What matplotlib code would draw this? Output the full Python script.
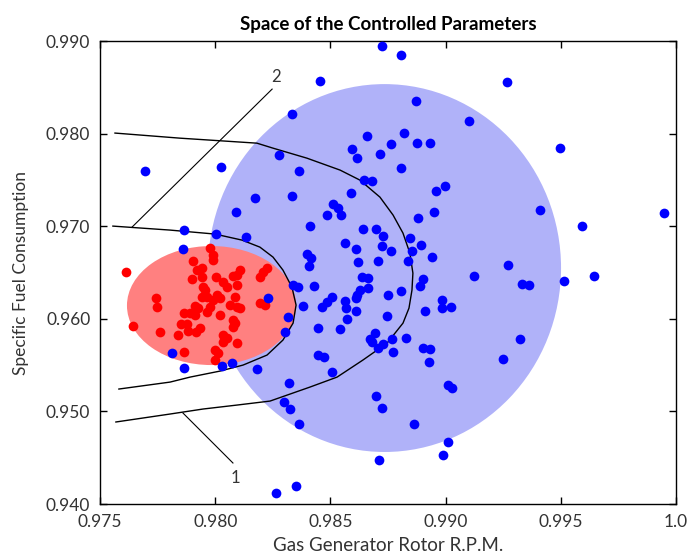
import numpy as np
import matplotlib as mpl
mpl.use('Agg')
import matplotlib.pyplot as plt
from matplotlib.patches import Ellipse

plt.rcParams['font.family'] = ['Lato', 'DejaVu Sans']

# ---- data ----
blue_x = [0.98724, 0.98806, 0.98455, 0.99266, 0.98871, 0.98333, 0.99101, 0.98819,
          0.98659, 0.98763, 0.98876, 0.98932, 0.98594, 0.98615, 0.98715, 0.98277,
          0.99496, 0.97695, 0.98025, 0.98364, 0.98806, 0.98646, 0.98680, 0.98997,
          0.98958, 0.98589, 0.98333, 0.98173, 0.98511, 0.98533, 0.98546, 0.98485,
          0.98090, 0.98950, 0.98880, 0.99410, 0.99948, 0.98411, 0.98641, 0.98698,
          0.98728, 0.97865, 0.98003, 0.98134, 0.99592, 0.98563, 0.98611, 0.98724,
          0.98763, 0.97860, 0.98398, 0.98416, 0.98407, 0.98620, 0.98707, 0.98845,
          0.98893, 0.98854, 0.98941, 0.98837, 0.99271, 0.99123, 0.99644, 0.99514,
          0.99331, 0.99362, 0.98902, 0.98889, 0.98806, 0.98750, 0.98637, 0.98663,
          0.98663, 0.98628, 0.98615, 0.98611, 0.98338, 0.98359, 0.98429, 0.98507,
          0.98485, 0.98463, 0.98563, 0.98568, 0.98381, 0.98611, 0.98572, 0.98746,
          0.98984, 0.98984, 0.99023, 0.98911, 0.98316, 0.98303, 0.98446, 0.98542,
          0.98694, 0.98672, 0.98767, 0.98828, 0.98728, 0.98680, 0.98707, 0.98772,
          0.98902, 0.98932, 0.98928, 0.99323, 0.99249, 0.98229, 0.98446, 0.98472,
          0.98507, 0.97812, 0.97865, 0.98029, 0.98073, 0.98181, 0.98320, 0.98698,
          0.98724, 0.99010, 0.99028, 0.98863, 0.98299, 0.98325, 0.98364, 0.98711,
          0.98989, 0.99010, 0.98351, 0.98264]
blue_y = [0.98946, 0.98849, 0.98568, 0.98557, 0.98352, 0.98212, 0.98136, 0.98006,
          0.97974, 0.97888, 0.97898, 0.97898, 0.97834, 0.97736, 0.97780, 0.97769,
          0.97844, 0.97596, 0.97639, 0.97596, 0.97628, 0.97499, 0.97488, 0.97434,
          0.97380, 0.97358, 0.97326, 0.97304, 0.97240, 0.97196, 0.97121, 0.97121,
          0.97153, 0.97153, 0.97088, 0.97175, 0.97142, 0.97002, 0.96970, 0.96970,
          0.96894, 0.96959, 0.96916, 0.96883, 0.97002, 0.96818, 0.96754, 0.96786,
          0.96732, 0.96754, 0.96700, 0.96656, 0.96570, 0.96613, 0.96624, 0.96872,
          0.96797, 0.96732, 0.96667, 0.96624, 0.96581, 0.96462, 0.96462, 0.96408,
          0.96376, 0.96365, 0.96430, 0.96354, 0.96300, 0.96257, 0.96451, 0.96440,
          0.96332, 0.96311, 0.96257, 0.96224, 0.96365, 0.96343, 0.96354, 0.96235,
          0.96181, 0.96127, 0.96192, 0.96116, 0.96138, 0.96084, 0.95998, 0.96030,
          0.96203, 0.96116, 0.96127, 0.96084, 0.96019, 0.95857, 0.95900, 0.95890,
          0.95846, 0.95782, 0.95782, 0.95792, 0.95728, 0.95749, 0.95684, 0.95641,
          0.95684, 0.95674, 0.95533, 0.95782, 0.95566, 0.96224, 0.95609, 0.95587,
          0.95425, 0.95630, 0.95468, 0.95490, 0.95522, 0.95458, 0.95306, 0.95166,
          0.95036, 0.95285, 0.95252, 0.94864, 0.95101, 0.95026, 0.94864, 0.94475,
          0.94529, 0.94669, 0.94194, 0.94118]

red_x = [0.97613, 0.97904, 0.97921, 0.97943, 0.97899, 0.97943, 0.97947, 0.97943,
         0.97964, 0.97743, 0.97747, 0.97912, 0.97925, 0.97865, 0.97891, 0.97912,
         0.97643, 0.97852, 0.97878, 0.97882, 0.97917, 0.97760, 0.97839, 0.97865,
         0.97977, 0.97990, 0.97990, 0.98108, 0.98095, 0.98077, 0.98225, 0.98207,
         0.98194, 0.98003, 0.98034, 0.98051, 0.97956, 0.98095, 0.98008, 0.98021,
         0.97990, 0.98086, 0.97977, 0.98064, 0.98095, 0.98108, 0.98194, 0.98216,
         0.97964, 0.98021, 0.98077, 0.98086, 0.98077, 0.98034, 0.98051, 0.98034,
         0.97999, 0.98012, 0.97999, 0.98095, 0.97934]
red_y = [0.96505, 0.96624, 0.96527, 0.96548, 0.96430, 0.96451, 0.96343, 0.96235,
         0.96235, 0.96224, 0.96127, 0.96138, 0.96116, 0.96062, 0.96062, 0.96041,
         0.95922, 0.95944, 0.95944, 0.95868, 0.95857, 0.95857, 0.95825, 0.95641,
         0.96764, 0.96689, 0.96635, 0.96527, 0.96473, 0.96462, 0.96548, 0.96505,
         0.96451, 0.96451, 0.96397, 0.96343, 0.96311, 0.96365, 0.96257, 0.96224,
         0.96203, 0.96235, 0.96127, 0.96149, 0.96127, 0.96116, 0.96170, 0.96149,
         0.96073, 0.96041, 0.95987, 0.95954, 0.95911, 0.95825, 0.95792, 0.95749,
         0.95663, 0.95630, 0.95555, 0.95738, 0.95900]

# outer boundary (1) and inner boundary (2)
curve1_x = [0.97565, 0.97847, 0.98181, 0.98251, 0.98398, 0.98542, 0.98628, 0.98715,
            0.98772, 0.98815, 0.98845, 0.98858, 0.98854, 0.98841, 0.98815, 0.98746,
            0.98641, 0.98529, 0.98411, 0.98238, 0.98095, 0.97947, 0.97804, 0.97569]
curve1_y = [0.98007, 0.97952, 0.97898, 0.97844, 0.97736, 0.97607, 0.97499, 0.97315,
            0.97121, 0.96926, 0.96710, 0.96494, 0.96311, 0.96116, 0.95954, 0.95738,
            0.95555, 0.95371, 0.95263, 0.95112, 0.95069, 0.95026, 0.94972, 0.94886]
curve2_x = [0.97556, 0.97804, 0.97999, 0.98116, 0.98194, 0.98251, 0.98294, 0.98333,
            0.98351, 0.98338, 0.98294, 0.98225, 0.98121, 0.98021, 0.97891, 0.97804,
            0.97582]
curve2_y = [0.97002, 0.96959, 0.96916, 0.96851, 0.96775, 0.96667, 0.96527, 0.96343,
            0.96149, 0.95954, 0.95771, 0.95609, 0.95501, 0.95436, 0.95371, 0.95317,
            0.95242]

# regions: centre x, centre y, width, height
blue_region = (0.98735, 0.96549, 0.01532, 0.03974)
red_region = (0.97984, 0.96144, 0.00734, 0.01286)

x_ticks = [0.975, 0.980, 0.985, 0.990, 0.995, 1.0]
x_labels = ['0.975', '0.980', '0.985', '0.990', '0.995', '1.0']
y_ticks = [0.940, 0.950, 0.960, 0.970, 0.980, 0.990]
y_labels = ['0.940', '0.950', '0.960', '0.970', '0.980', '0.990']


def main():
    fig = plt.figure(figsize=(6.93, 5.56), dpi=100)
    ax = fig.add_axes([0.1443, 0.0935, 0.8312, 0.8325])

    bx, by, bw, bh = blue_region
    ax.add_patch(Ellipse((bx, by), bw, bh, color='#b0b2f9', lw=0, zorder=1))
    rx, ry, rw, rh = red_region
    ax.add_patch(Ellipse((rx, ry), rw, rh, color='#ff8080', lw=0, zorder=2))

    ax.plot(curve1_x, curve1_y, 'k-', lw=1.0, zorder=3, solid_joinstyle='round')
    ax.plot(curve2_x, curve2_y, 'k-', lw=1.0, zorder=3, solid_joinstyle='round')

    # leader lines with labels
    ax.plot([0.98247, 0.97639], [0.98482, 0.96991], 'k-', lw=0.8, zorder=3)
    ax.text(0.98264, 0.98611, '2', fontsize=12, ha='center', va='center', color='#333333')
    ax.plot([0.97860, 0.98077], [0.94983, 0.94443], 'k-', lw=0.8, zorder=3)
    ax.text(0.98086, 0.94280, '1', fontsize=12, ha='center', va='center', color='#333333')

    ax.plot(red_x, red_y, 'o', color='#ff0000', ms=7, mew=0, zorder=4)
    ax.plot(blue_x, blue_y, 'o', color='#0000ff', ms=7, mew=0, zorder=5)

    ax.set_xlim(0.975, 1.0)
    ax.set_ylim(0.940, 0.990)
    ax.set_xticks(x_ticks)
    ax.set_xticklabels(x_labels)
    ax.set_yticks(y_ticks)
    ax.set_yticklabels(y_labels)
    ax.tick_params(direction='in', top=True, right=True, length=5, width=1,
                   labelsize=12.5, labelcolor='#333333', pad=7)
    for s in ax.spines.values():
        s.set_linewidth(1.0)

    ax.set_title('Space of the Controlled Parameters', fontsize=13.5,
                 fontweight='bold', pad=8)
    ax.set_xlabel('Gas Generator Rotor R.P.M.', fontsize=13.5, color='#333333', labelpad=5)
    ax.set_ylabel('Specific Fuel Consumption', fontsize=12.5, color='#333333', labelpad=12)

    fig.savefig('out.png', dpi=100)


if __name__ == '__main__':
    main()
